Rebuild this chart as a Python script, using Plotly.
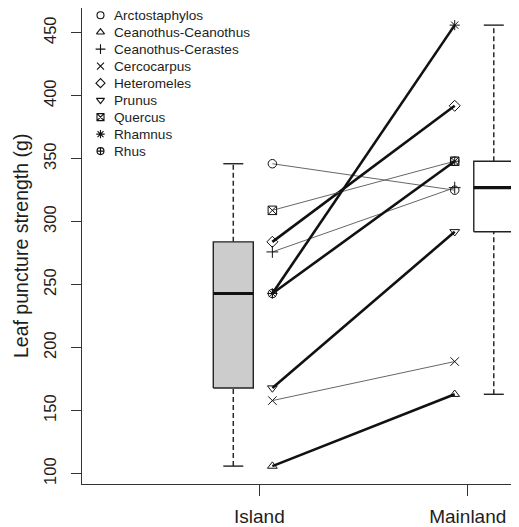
import numpy as np
import plotly.graph_objects as go

# ---------------- data ----------------
species = ["Arctostaphylos", "Ceanothus-Ceanothus", "Ceanothus-Cerastes",
           "Cercocarpus", "Heteromeles", "Prunus", "Quercus", "Rhamnus", "Rhus"]
island = [346, 106, 276, 158, 284, 168, 309, 243, 243]
mainland = [325, 163, 327, 189, 392, 292, 348, 456, 348]
groups = ["Island", "Mainland"]
y_ticks = [100, 150, 200, 250, 300, 350, 400, 450]
thick_species = ["Ceanothus-Ceanothus", "Heteromeles", "Prunus", "Rhamnus", "Rhus"]

# ---------------- styles ----------------
symbols = ["circle-open", "triangle-up-open", "cross-thin-open", "x-thin-open",
           "diamond-open", "triangle-down-open", "square-x-open", "asterisk-open",
           "circle-cross-open"]
FONT = "Liberation Sans, Arial, Helvetica, sans-serif"
INK = "#1e1e1e"
# page has an 8px body margin; size the figure so the page is 519 x 527
PAGE_OFF = 8
W, H = 519 - PAGE_OFF, 527 - PAGE_OFF
ML, MR, MT = 82 - PAGE_OFF, 0, 8 - PAGE_OFF
MB = H - (484.3 - PAGE_OFF)

X_RANGE = [0.149, 2.246]
Y_RANGE = [91.8, 469.6]
pt_off = 0.0625      # offset of paired points from the group tick
box_off = 0.125      # offset of boxes from the group tick
box_w = 0.192
box_fill = ["#cccccc", "#ffffff"]


def fivenum(v):
    x = np.sort(np.asarray(v, dtype=float))
    n = len(x)
    n4 = np.floor((n + 3) / 2) / 2
    d = np.array([1, n4, (n + 1) / 2, n + 1 - n4, n])
    return 0.5 * (x[np.floor(d).astype(int) - 1] + x[np.ceil(d).astype(int) - 1])


fig = go.Figure()

# ---- boxplots (R style, whiskers to the extremes) ----
for gi, vals in enumerate([island, mainland]):
    c = gi + 1 + (-box_off if gi == 0 else box_off)
    st = fivenum(vals)
    lo, hi = st[0], st[4]
    x0, x1 = c - box_w / 2, c + box_w / 2
    for a, b in [(st[3], hi), (lo, st[1])]:
        fig.add_trace(go.Scatter(x=[c, c], y=[a, b], mode="lines",
                                 line=dict(color="#2a2a2a", width=1.5, dash="5px,3px"),
                                 showlegend=False, hoverinfo="skip"))
    for v in [hi, lo]:
        fig.add_trace(go.Scatter(x=[c - box_w / 4, c + box_w / 4], y=[v, v], mode="lines",
                                 line=dict(color="#222", width=1.4),
                                 showlegend=False, hoverinfo="skip"))
    fig.add_trace(go.Scatter(x=[x0, x1, x1, x0, x0], y=[st[1], st[1], st[3], st[3], st[1]],
                             mode="lines", fill="toself", fillcolor=box_fill[gi],
                             line=dict(color="#222", width=1.4),
                             showlegend=False, hoverinfo="skip"))
    fig.add_trace(go.Scatter(x=[x0, x1], y=[st[2], st[2]], mode="lines",
                             line=dict(color="#111", width=3.2),
                             showlegend=False, hoverinfo="skip"))

# ---- paired lines ----
for i, sp in enumerate(species):
    thick = sp in thick_species
    fig.add_trace(go.Scatter(
        x=[1 + pt_off, 2 - pt_off], y=[island[i], mainland[i]], mode="lines",
        line=dict(color="#111" if thick else "#555", width=2.6 if thick else 0.9),
        showlegend=False, hoverinfo="skip"))

# ---- points ----
for i, sp in enumerate(species):
    fig.add_trace(go.Scatter(
        x=[1 + pt_off, 2 - pt_off], y=[island[i], mainland[i]], mode="markers",
        name=sp,
        marker=dict(symbol=symbols[i], size=8.5, color="#111",
                    line=dict(color="#222", width=1.0)),
        showlegend=False))

# ---- manual legend (pixel-like overlay axes, page coordinates) ----
leg_x_sym, leg_x_txt, leg_y0, leg_dy = 100.5, 111.5, 15.2, 17.0
leg_y = [leg_y0 + k * leg_dy for k in range(len(species))]
fig.add_trace(go.Scatter(
    x=[leg_x_sym] * len(species), y=leg_y, xaxis="x2", yaxis="y2", mode="markers",
    marker=dict(symbol=symbols, size=7, color="#111", line=dict(color="#111", width=1.1)),
    showlegend=False, hoverinfo="skip"))
annotations = []
for k, sp in enumerate(species):
    annotations.append(dict(x=leg_x_txt, y=leg_y[k], xref="x2", yref="y2", text=sp,
                            showarrow=False, xanchor="left", yanchor="middle",
                            font=dict(family=FONT, size=13.6, color=INK)))

pw = W - ML - MR
annotations.append(dict(x=(21 - 82) / pw, y=0.5, xref="paper", yref="paper",
                        text="Leaf puncture strength (g)", textangle=-90,
                        showarrow=False, xanchor="center", yanchor="middle",
                        font=dict(family=FONT, size=19.5, color=INK)))

fig.update_layout(
    width=W, height=H,
    margin=dict(l=ML, r=MR, t=MT, b=MB, pad=0, autoexpand=False),
    paper_bgcolor="white", plot_bgcolor="white",
    font=dict(family=FONT, color=INK),
    showlegend=False,
    annotations=annotations,
    xaxis=dict(range=X_RANGE, tickvals=[1, 2], ticktext=groups, ticks="outside",
               ticklen=11, tickwidth=1.3, tickcolor="#333", showline=True,
               linecolor="#333", linewidth=1.3, showgrid=False, zeroline=False,
               ticklabelstandoff=4,
               tickfont=dict(family=FONT, size=19, color=INK)),
    yaxis=dict(range=Y_RANGE, tickvals=y_ticks, ticks="outside", ticklen=10,
               tickwidth=1.3, tickcolor="#333", showline=True, linecolor="#333",
               linewidth=1.3, showgrid=False, zeroline=False, tickangle=-90,
               ticklabelstandoff=8,
               tickfont=dict(family=FONT, size=16.5, color=INK)),
    xaxis2=dict(overlaying="x", range=[82, 519], visible=False, anchor="y2"),
    yaxis2=dict(overlaying="y", range=[484.3, 8], visible=False, anchor="x2"),
)

fig.write_html("out.html")
